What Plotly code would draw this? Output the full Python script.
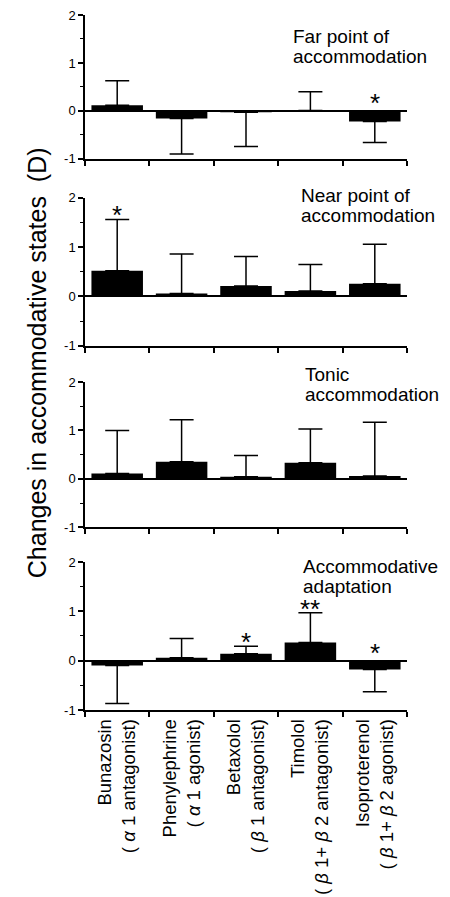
import plotly.graph_objects as go

categories = [
    "Bunazosin<br>( <i>α</i> 1 antagonist)",
    "Phenylephrine<br>( <i>α</i> 1 agonist)",
    "Betaxolol<br>( <i>β</i> 1 antagonist)",
    "Timolol<br>( <i>β</i> 1+ <i>β</i> 2 antagonist)",
    "Isoproterenol<br>( <i>β</i> 1+ <i>β</i> 2 agonist)",
]

panel_titles = [
    ["Far point of", "accommodation"],
    ["Near point of", "accommodation"],
    ["Tonic", "accommodation"],
    ["Accommodative", "adaptation"],
]

far_mean = [0.12, -0.16, -0.03, 0.01, -0.22]
far_sd = [0.51, 0.74, 0.71, 0.39, 0.44]
far_sig = ["", "", "", "", "*"]

near_mean = [0.52, 0.06, 0.21, 0.11, 0.26]
near_sd = [1.04, 0.80, 0.60, 0.54, 0.80]
near_sig = ["*", "", "", "", ""]

tonic_mean = [0.11, 0.35, 0.04, 0.33, 0.06]
tonic_sd = [0.89, 0.87, 0.44, 0.70, 1.11]
tonic_sig = ["", "", "", "", ""]

adapt_mean = [-0.10, 0.06, 0.14, 0.37, -0.18]
adapt_sd = [0.77, 0.39, 0.15, 0.60, 0.45]
adapt_sig = ["", "", "*", "**", "*"]

panels = [
    (far_mean, far_sd, far_sig),
    (near_mean, near_sd, near_sig),
    (tonic_mean, tonic_sd, tonic_sig),
    (adapt_mean, adapt_sd, adapt_sig),
]

y_tickvals = [-1, 0, 1, 2]
y_ticktext = ["-1", "0", "1", "2"]

# domains in paper coords (top to bottom)
domains = [[0.793, 1.0], [0.524, 0.737], [0.263, 0.472], [0.0, 0.213]]
title_pos = [(0.64, 0.937), (0.665, 1.10), (0.676, 1.14), (0.671, 1.054)]

FONT = "Liberation Sans, Arial, sans-serif"
fig = go.Figure()
layout = {}
annotations = []

for i, (mean, sd, sig) in enumerate(panels):
    n = i + 1
    xa = "x" if n == 1 else f"x{n}"
    ya = "y" if n == 1 else f"y{n}"
    up = [s if m >= 0 else 0 for m, s in zip(mean, sd)]
    down = [s if m < 0 else 0 for m, s in zip(mean, sd)]
    fig.add_trace(go.Bar(
        x=categories, y=mean, xaxis=xa, yaxis=ya,
        marker=dict(color="black", line=dict(width=0)),
        width=0.8,
        error_y=dict(type="data", symmetric=False, array=up, arrayminus=down,
                     color="black", thickness=1.5, width=12),
        showlegend=False,
    ))
    layout["xaxis" if n == 1 else f"xaxis{n}"] = dict(
        domain=[0, 1], anchor=ya, type="category",
        categoryorder="array", categoryarray=categories,
        range=[-0.5, 4.5], tickson="boundaries", ticks="outside",
        ticklen=5, tickwidth=1.5, tickcolor="black",
        showline=True, linecolor="black", linewidth=1.5,
        showgrid=False, showticklabels=(n == 4), tickangle=-90,
        automargin=False, ticklabeloverflow="allow",
        tickfont=dict(family=FONT, size=18.5, color="black"),
    )
    layout["yaxis" if n == 1 else f"yaxis{n}"] = dict(
        domain=domains[i], anchor=xa, range=[-1, 2],
        tickvals=y_tickvals, ticktext=y_ticktext, ticks="outside",
        ticklen=5, tickwidth=1.5, tickcolor="black",
        minor=dict(dtick=0.5, tick0=0, ticks="outside", ticklen=3,
                   tickwidth=1.2, tickcolor="black"),
        showline=True, linecolor="black", linewidth=1.5,
        showgrid=False, zeroline=True, zerolinecolor="black",
        zerolinewidth=1.5, automargin=False, ticklabeloverflow="allow",
        tickfont=dict(family=FONT, size=13, color="black"),
    )
    tx, ty = title_pos[i]
    for k, line in enumerate(panel_titles[i]):
        annotations.append(dict(
            text=line, xref=f"{xa} domain", yref=f"{ya} domain",
            x=tx, y=ty, yshift=-20 * k, xanchor="left", yanchor="top",
            align="left", showarrow=False,
            font=dict(family=FONT, size=19, color="black"),
        ))
    for c, m, s, g in zip(categories, mean, sd, sig):
        if not g:
            continue
        base = m + s if m >= 0 else 0
        annotations.append(dict(
            text=g, xref=xa, yref=ya, x=c, y=base,
            xanchor="center", yanchor="middle",
            yshift=4 if m >= 0 else 8, showarrow=False,
            font=dict(family=FONT, size=26, color="black"),
        ))

annotations.append(dict(
    text="Changes in accommodative states  (D)",
    xref="paper", yref="paper", x=-0.15, y=0.50,
    xanchor="center", yanchor="middle", textangle=-90, showarrow=False,
    font=dict(family=FONT, size=25, color="black"),
))

# the page body adds an 8px offset; compensate in size and margins
fig.update_layout(
    width=442, height=889,
    margin=dict(l=77, r=43, t=7, b=187, autoexpand=False),
    paper_bgcolor="white", plot_bgcolor="white",
    bargap=0.2,
    annotations=annotations,
    **layout,
)

fig.write_html("out.html")
